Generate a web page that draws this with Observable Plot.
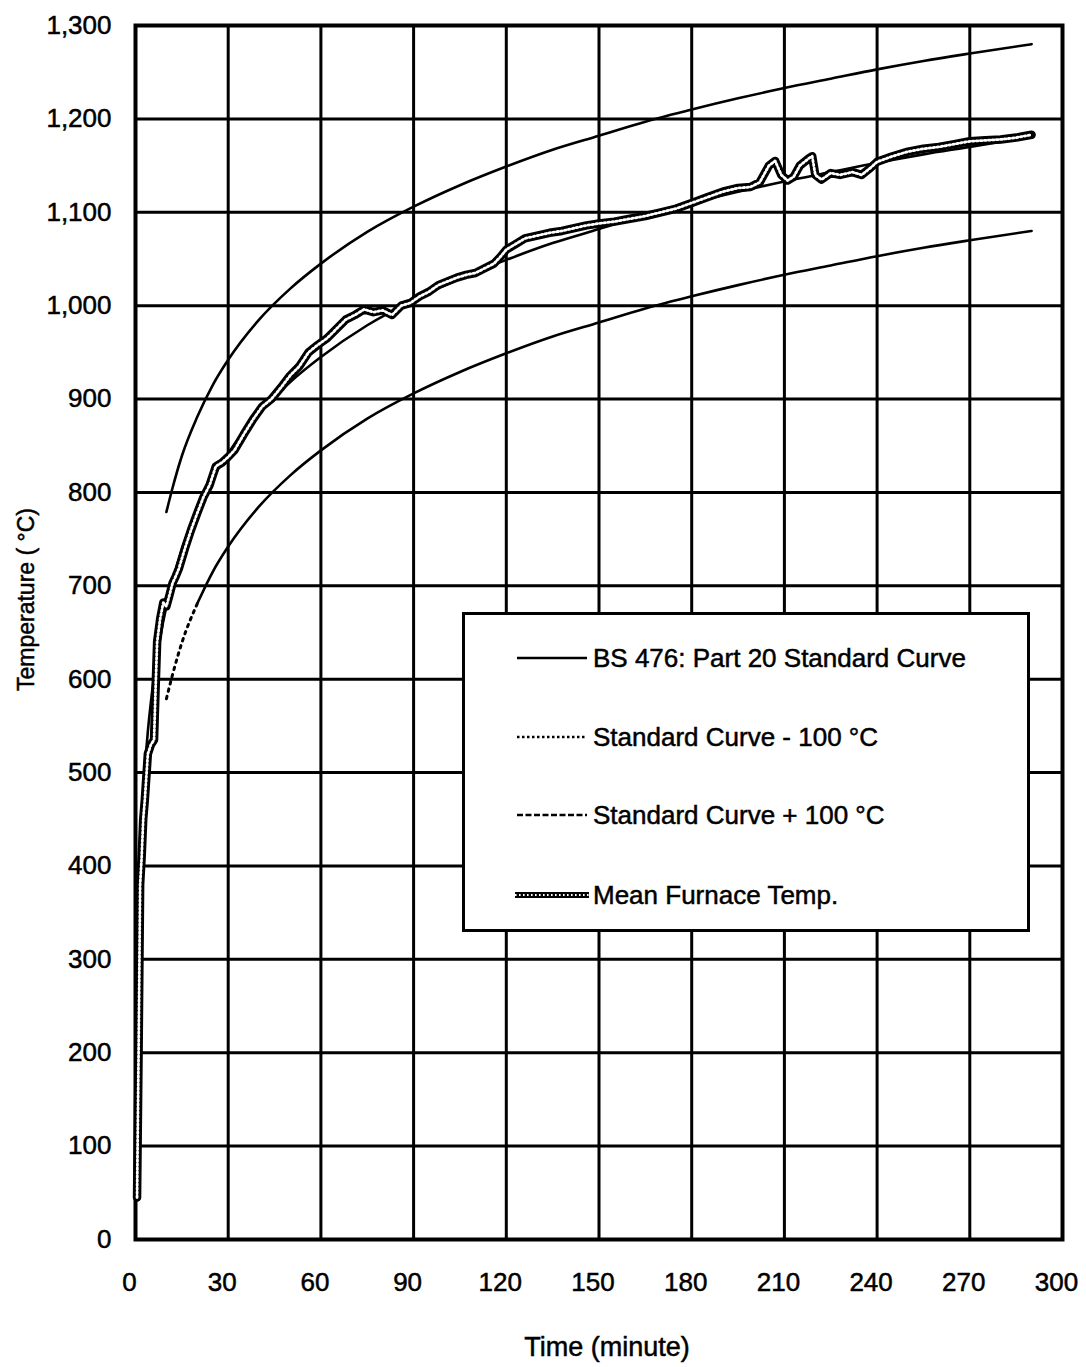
<!DOCTYPE html>
<html>
<head>
<meta charset="utf-8">
<script src="https://cdn.jsdelivr.net/npm/d3@7"></script>
<script src="https://cdn.jsdelivr.net/npm/@observablehq/plot@0.6"></script>
<style>
  body { margin: 0; background: #fff; }
  #wrap { position: relative; width: 1086px; height: 1367px; }
  #wrap svg text { stroke: #000; stroke-width: 0.5px; }
  #legend {
    position: absolute; left: 462px; top: 612px; width: 568px; height: 320px;
    box-sizing: border-box; border: 3px solid #000; background: #fff;
    font-family: "Liberation Sans", Arial, sans-serif; font-size: 26px; color: #000;
    -webkit-text-stroke: 0.5px #000;
  }
  .row { position: absolute; left: 0; height: 40px; width: 100%; }
  .row svg { position: absolute; left: 50px; top: 10px; }
  .row span { position: absolute; left: 128px; top: 5px; white-space: nowrap; }
</style>
</head>
<body>
<div id="wrap"></div>
<script>
// ---- data ----
const xTicks = [0, 30, 60, 90, 120, 150, 180, 210, 240, 270, 300];
const yTicks = [0, 100, 200, 300, 400, 500, 600, 700, 800, 900, 1000, 1100, 1200, 1300];

const seriesNames = [
  "BS 476: Part 20 Standard Curve",
  "Standard Curve - 100 °C",
  "Standard Curve + 100 °C",
  "Mean Furnace Temp."
];

// BS 476 standard curve (middle thin line)
const stdTimes  = [0, 1, 2, 3, 4, 5, 6, 8, 10, 12, 15, 20, 25, 30, 40, 50, 60, 75, 90, 105, 120, 135, 150, 165, 180, 195, 210, 225, 240, 255, 270, 290];
const stdValues = [20, 349, 445, 502, 544, 576, 603, 645, 678, 705, 739, 781, 815, 842, 885, 918, 945, 979, 1006, 1029, 1049, 1067, 1082, 1097, 1110, 1122, 1133, 1143, 1153, 1162, 1170, 1181];

// Standard curve + 100 °C (upper line) and - 100 °C (lower line)
const bandTimes   = [10, 12, 15, 20, 25, 30, 40, 50, 60, 75, 90, 105, 120, 135, 150, 165, 180, 195, 210, 225, 240, 255, 270, 290];
const upperValues = [779, 805, 839, 881, 915, 942, 985, 1018, 1045, 1079, 1106, 1129, 1149, 1167, 1182, 1197, 1210, 1222, 1233, 1243, 1253, 1262, 1270, 1280];
const lowerValues = [579, 605, 639, 681, 715, 742, 785, 818, 845, 879, 906, 929, 949, 967, 982, 997, 1010, 1022, 1033, 1043, 1053, 1062, 1070, 1080];

// Mean furnace temperature (thick hatched line)
const meanTimes  = [0.5, 1, 1.5, 2, 2.5, 3, 4, 5, 6, 6.5, 7, 8, 9, 10, 11, 12, 13, 14, 16, 18, 20, 22, 24, 26, 28, 30, 32, 35, 38, 41, 44, 47, 50, 53, 56, 59, 62, 65, 68, 71, 74, 77, 80, 83, 86, 89, 92, 95, 98, 101, 104, 107, 110, 113, 116, 118, 120, 123, 126, 130, 134, 138, 142, 146, 150, 155, 160, 165, 170, 175, 180, 185, 190, 195, 199, 202, 205, 207, 209, 211, 213, 215, 218, 219, 220, 222, 225, 228, 232, 235, 238, 240, 245, 250, 255, 260, 265, 270, 275, 280, 285, 290];
const meanValues = [45, 200, 380, 410, 450, 470, 520, 530, 535, 590, 640, 665, 682, 678, 690, 703, 710, 718, 740, 760, 778, 795, 808, 828, 832, 838, 845, 862, 878, 892, 900, 912, 925, 935, 950, 958, 965, 975, 985, 990, 996, 993, 995, 990, 1000, 1003, 1010, 1015, 1022, 1026, 1030, 1033, 1035, 1040, 1045, 1052, 1060, 1066, 1072, 1075, 1078, 1080, 1083, 1086, 1088, 1090, 1093, 1096, 1100, 1104, 1110, 1116, 1122, 1126, 1127, 1132, 1150, 1155, 1140, 1134, 1138, 1150, 1158, 1160, 1140, 1135, 1142, 1140, 1143, 1140, 1148, 1154, 1160, 1165, 1168, 1170, 1173, 1176, 1177, 1178, 1180, 1183];

// ---- tables built from the arrays ----
const stdData   = stdTimes.map((t, i) => ({t, v: stdValues[i]}));
const upperData = bandTimes.map((t, i) => ({t, v: upperValues[i]}));
const lowerData = bandTimes.map((t, i) => ({t, v: lowerValues[i]}));
const meanData  = meanTimes.map((t, i) => ({t, v: meanValues[i]}));

const font = '"Liberation Sans", Arial, sans-serif';

const chart = Plot.plot({
  width: 1086,
  height: 1367,
  marginLeft: 135,
  marginRight: 24,
  marginTop: 25,
  marginBottom: 128,
  style: {fontFamily: font, fontSize: "26px", background: "#fff", color: "#000", overflow: "visible"},
  x: {domain: [0, 300], ticks: xTicks, tickSize: 0, tickPadding: 33, label: null},
  y: {domain: [0, 1300], ticks: yTicks, tickSize: 0, tickPadding: 24, label: null, tickFormat: d3.format(",")},
  marks: [
    Plot.ruleX(xTicks, {stroke: "#000", strokeWidth: 3}),
    Plot.ruleY(yTicks, {stroke: "#000", strokeWidth: 3}),
    Plot.frame({stroke: "#000", strokeWidth: 4}),
    // standard curve
    Plot.line(stdData, {x: "t", y: "v", stroke: "#000", strokeWidth: 2.6, curve: "monotone-x"}),
    // standard + 100
    Plot.line(upperData, {x: "t", y: "v", stroke: "#000", strokeWidth: 2.6, curve: "monotone-x"}),
    // standard - 100 (dotted where steep, then dense)
    Plot.line(lowerData.filter(d => d.t <= 20), {x: "t", y: "v", stroke: "#000", strokeWidth: 3, strokeDasharray: "2.5,5", curve: "monotone-x"}),
    Plot.line(lowerData.filter(d => d.t >= 20), {x: "t", y: "v", stroke: "#000", strokeWidth: 2.6, curve: "monotone-x"}),
    // mean furnace temperature (hatched thick line)
    Plot.line(meanData, {x: "t", y: "v", stroke: "#000", strokeWidth: 8.5, strokeLinejoin: "round"}),
    Plot.line(meanData, {x: "t", y: "v", stroke: "#fff", strokeWidth: 2.8, strokeDasharray: "1.6,2.4", strokeLinejoin: "round"}),
    // axis titles
    Plot.text(["Time (minute)"], {frameAnchor: "bottom", dx: 8, dy: 108, text: d => d, fontSize: 27, textAnchor: "middle", lineAnchor: "middle", fill: "#000"}),
    Plot.text(["Temperature ( °C)"], {frameAnchor: "left", dx: -109, dy: -33, rotate: -90, text: d => d, fontSize: 23, textAnchor: "middle", lineAnchor: "middle", fill: "#000"})
  ]
});

// shift x tick labels slightly left, as in the reference
chart.querySelectorAll('[aria-label="x-axis tick label"] text, g[aria-label="x-axis"] text').forEach(t => t.setAttribute("dx", "-6"));

const wrap = document.getElementById("wrap");
wrap.appendChild(chart);

// ---- legend (HTML box over the plot) ----
const legend = document.createElement("div");
legend.id = "legend";
const rowTops = [23, 102, 180, 260];
const samples = [
  '<line x1="2" y1="10" x2="72" y2="10" stroke="#000" stroke-width="2.6"/>',
  '<line x1="2" y1="10" x2="72" y2="10" stroke="#000" stroke-width="2.6" stroke-dasharray="2.5,2.5"/>',
  '<line x1="2" y1="10" x2="72" y2="10" stroke="#000" stroke-width="2.6" stroke-dasharray="6,2.5"/>',
  '<line x1="0" y1="10" x2="74" y2="10" stroke="#000" stroke-width="6"/><line x1="0" y1="10" x2="74" y2="10" stroke="#fff" stroke-width="1.8" stroke-dasharray="1.6,2.4"/>'
];
seriesNames.forEach((name, i) => {
  const row = document.createElement("div");
  row.className = "row";
  row.style.top = rowTops[i] + "px";
  row.innerHTML = `<svg width="76" height="20">${samples[i]}</svg><span>${name}</span>`;
  legend.appendChild(row);
});
wrap.appendChild(legend);
</script>
</body>
</html>
